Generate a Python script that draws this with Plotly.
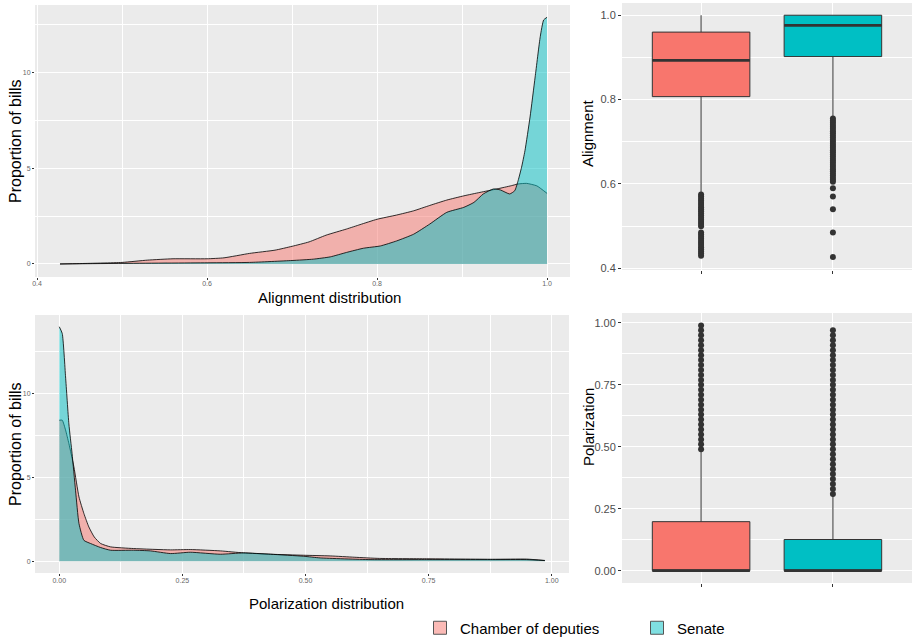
import plotly.graph_objects as go

# ---------------- data ----------------
groups = ["Chamber of deputies", "Senate"]

# Alignment density
align_x_ch = [0.427, 0.45, 0.50, 0.53, 0.56, 0.60, 0.62, 0.65, 0.68, 0.70, 0.72, 0.74, 0.764, 0.78, 0.80,
              0.823, 0.843, 0.862, 0.882, 0.902, 0.921, 0.941, 0.958, 0.966, 0.976, 0.988, 1.0]
align_y_ch = [0.0, 0.02, 0.08, 0.2, 0.27, 0.27, 0.32, 0.55, 0.72, 0.92, 1.15, 1.5, 1.82, 2.05, 2.33,
              2.55, 2.77, 3.05, 3.33, 3.55, 3.73, 3.91, 4.08, 4.17, 4.2, 4.07, 3.68]
align_x_se = [0.427, 0.50, 0.60, 0.65, 0.70, 0.725, 0.745, 0.764, 0.784, 0.804, 0.823, 0.843, 0.862, 0.882,
              0.902, 0.914, 0.925, 0.937, 0.945, 0.956, 0.962, 0.966, 0.970, 0.974, 0.980, 0.986, 0.992,
              0.996, 1.0]
align_y_se = [0.0, 0.03, 0.06, 0.08, 0.18, 0.25, 0.37, 0.6, 0.82, 0.94, 1.2, 1.55, 2.08, 2.69,
              2.95, 3.21, 3.65, 3.91, 3.86, 3.65, 3.82, 4.35, 5.04, 5.9, 7.66, 9.75, 11.85,
              12.72, 12.86]

# Polarization density
pol_x_ch = [0.0, 0.006, 0.0128, 0.0195, 0.0297, 0.040, 0.050, 0.060, 0.071, 0.084, 0.104, 0.151, 0.226,
            0.266, 0.327, 0.374, 0.429, 0.496, 0.55, 0.60, 0.65, 0.746, 0.88, 0.949, 0.986]
pol_y_ch = [8.42, 8.42, 7.83, 7.03, 5.63, 3.84, 2.85, 2.05, 1.45, 1.06, 0.86, 0.76, 0.68,
            0.7, 0.62, 0.5, 0.42, 0.36, 0.32, 0.24, 0.17, 0.15, 0.12, 0.13, 0.05]
pol_x_se = [0.0, 0.006, 0.0128, 0.0195, 0.026, 0.033, 0.040, 0.050, 0.0635, 0.084, 0.104, 0.151, 0.185,
            0.226, 0.266, 0.327, 0.374, 0.429, 0.496, 0.53, 0.631, 0.746, 0.88, 0.949, 0.986]
pol_y_se = [14.0, 13.6, 11.0, 8.2, 6.43, 4.24, 2.25, 1.25, 1.06, 0.82, 0.66, 0.66, 0.62,
            0.46, 0.54, 0.42, 0.5, 0.42, 0.3, 0.2, 0.1, 0.1, 0.1, 0.1, 0.04]

# Alignment boxplot stats [chamber, senate]
al_q1 = [0.807, 0.902]
al_med = [0.893, 0.976]
al_q3 = [0.960, 1.0]
al_lo = [0.578, 0.759]
al_hi = [1.0, 1.0]
al_out_ch = [0.575, 0.570, 0.565, 0.560, 0.555, 0.550, 0.545, 0.540, 0.535, 0.530, 0.525, 0.520,
             0.515, 0.510, 0.505, 0.500, 0.485, 0.480, 0.475, 0.470, 0.465, 0.460, 0.455, 0.450,
             0.445, 0.440, 0.435, 0.430]
al_out_se = [0.755, 0.750, 0.745, 0.740, 0.735, 0.730, 0.725, 0.720, 0.715, 0.710, 0.705, 0.700,
             0.695, 0.690, 0.685, 0.680, 0.675, 0.670, 0.665, 0.660, 0.655, 0.650, 0.645, 0.640,
             0.635, 0.630, 0.625, 0.620, 0.615, 0.610, 0.605, 0.590, 0.570, 0.540, 0.485, 0.427]

# Polarization boxplot stats [chamber, senate]
po_q1 = [0.0, 0.0]
po_med = [0.0, 0.0]
po_q3 = [0.198, 0.126]
po_lo = [0.0, 0.0]
po_hi = [0.488, 0.307]
po_out_ch = [0.49, 0.51, 0.53, 0.55, 0.57, 0.59, 0.61, 0.63, 0.65, 0.67, 0.69, 0.71, 0.73,
             0.75, 0.77, 0.79, 0.81, 0.83, 0.85, 0.87, 0.89, 0.91, 0.93, 0.95, 0.97, 0.99]
po_out_se = [0.31, 0.33, 0.35, 0.37, 0.39, 0.41, 0.43, 0.45, 0.47, 0.49, 0.51, 0.53, 0.55,
             0.57, 0.59, 0.61, 0.63, 0.65, 0.67, 0.69, 0.71, 0.73, 0.75, 0.77, 0.79, 0.81,
             0.83, 0.85, 0.87, 0.89, 0.91, 0.93, 0.95, 0.97]

# ---------------- styling ----------------
W, H = 914, 640
RED, TEAL = "#F8766D", "#00BFC4"
RED_A, TEAL_A = "rgba(248,118,109,0.5)", "rgba(0,191,196,0.5)"
DARK = "#333333"
FONT = "Liberation Sans"
BOXW = 0.74


def dom_x(a, b):
    return [a / W, b / W]


def dom_y(top, bottom):
    return [1 - bottom / H, 1 - top / H]


fig = go.Figure()

# densities
for xs, ys, col, ax in [(align_x_ch, align_y_ch, RED_A, "1"), (align_x_se, align_y_se, TEAL_A, "1"),
                        (pol_x_ch, pol_y_ch, RED_A, "3"), (pol_x_se, pol_y_se, TEAL_A, "3")]:
    fig.add_trace(go.Scatter(x=xs, y=ys, mode="lines", fill="tozeroy", fillcolor=col,
                             line=dict(color="black", width=0.8, shape="spline", smoothing=0.5),
                             showlegend=False, hoverinfo="skip",
                             xaxis="x" if ax == "1" else "x" + ax,
                             yaxis="y" if ax == "1" else "y" + ax))

# boxplots
def add_box(pos, q1, med, q3, lo, hi, outs, col, ax):
    fig.add_trace(go.Box(x=[pos], q1=[q1], median=[med], q3=[q3], lowerfence=[lo], upperfence=[hi],
                         fillcolor=col, line=dict(color=DARK, width=1), whiskerwidth=0, width=BOXW,
                         boxpoints=False, showlegend=False, hoverinfo="skip",
                         xaxis="x" + ax, yaxis="y" + ax))
    fig.add_trace(go.Scatter(x=[pos - BOXW / 2, pos + BOXW / 2], y=[med, med], mode="lines",
                             line=dict(color=DARK, width=2.6), showlegend=False, hoverinfo="skip",
                             xaxis="x" + ax, yaxis="y" + ax))
    fig.add_trace(go.Scatter(x=[pos] * len(outs), y=outs, mode="markers",
                             marker=dict(color=DARK, size=6), showlegend=False, hoverinfo="skip",
                             xaxis="x" + ax, yaxis="y" + ax))


add_box(1, al_q1[0], al_med[0], al_q3[0], al_lo[0], al_hi[0], al_out_ch, RED, "2")
add_box(2, al_q1[1], al_med[1], al_q3[1], al_lo[1], al_hi[1], al_out_se, TEAL, "2")
add_box(1, po_q1[0], po_med[0], po_q3[0], po_lo[0], po_hi[0], po_out_ch, RED, "4")
add_box(2, po_q1[1], po_med[1], po_q3[1], po_lo[1], po_hi[1], po_out_se, TEAL, "4")

# legend entries
for name, col in zip(groups, [RED_A, TEAL_A]):
    fig.add_trace(go.Scatter(x=[None], y=[None], mode="markers", name=name,
                             marker=dict(symbol="square", size=13, color=col,
                                         line=dict(color="#555555", width=1)),
                             xaxis="x", yaxis="y"))


def axis(dom, rng, tickvals, ticktext=None, minor_vals=None, anchor=None, tick_size=7,
         tick_color="#666666", show_labels=True, ticklen=3, standoff=None):
    d = dict(domain=dom, range=rng, tickvals=tickvals, showgrid=True, gridcolor="white",
             gridwidth=1.2, zeroline=False, showline=False, ticks="outside", ticklen=ticklen,
             tickcolor=DARK, tickwidth=1, showticklabels=show_labels, automargin=False,
             tickfont=dict(family=FONT, size=tick_size, color=tick_color), anchor=anchor,
             fixedrange=True)
    if standoff is not None:
        d["ticklabelstandoff"] = standoff
    if ticktext is not None:
        d["ticktext"] = ticktext
    if minor_vals:
        d["minor"] = dict(tickvals=minor_vals, showgrid=True, gridcolor="white", gridwidth=0.6,
                          ticks="")
    return d


fig.update_layout(
    width=W, height=H, margin=dict(l=0, r=0, t=0, b=0, autoexpand=False),
    paper_bgcolor="white", plot_bgcolor="#EBEBEB",
    font=dict(family=FONT, color="black"),
    xaxis=axis(dom_x(35, 570), [0.3976, 1.027], [0.4, 0.6, 0.8, 1.0], ["0.4", "0.6", "0.8", "1.0"],
               [0.5, 0.7, 0.9], anchor="y", ticklen=2, standoff=-2),
    yaxis=axis(dom_y(5, 277), [-0.68, 13.5], [0, 5, 10], ["0", "5", "10"], [2.5, 7.5, 12.5], anchor="x",
               ticklen=2),
    xaxis2=axis(dom_x(622, 912), [0.4, 2.6], [1, 2], None, None, anchor="y2", show_labels=False),
    yaxis2=axis(dom_y(3, 270), [0.396, 1.029], [0.4, 0.6, 0.8, 1.0], ["0.4", "0.6", "0.8", "1.0"],
                [0.5, 0.7, 0.9], anchor="x2", tick_size=11, tick_color="#4D4D4D"),
    xaxis3=axis(dom_x(35, 569), [-0.0493, 1.035], [0, 0.25, 0.5, 0.75, 1.0],
                ["0.00", "0.25", "0.50", "0.75", "1.00"], [0.125, 0.375, 0.625, 0.875], anchor="y3",
                ticklen=2, standoff=-1),
    yaxis3=axis(dom_y(315, 573), [-0.7, 14.7], [0, 5, 10], ["0", "5", "10"], [2.5, 7.5, 12.5], anchor="x3",
                ticklen=2),
    xaxis4=axis(dom_x(622, 912), [0.4, 2.6], [1, 2], None, None, anchor="y4", show_labels=False),
    yaxis4=axis(dom_y(313, 583), [-0.0495, 1.04], [0, 0.25, 0.5, 0.75, 1.0],
                ["0.00", "0.25", "0.50", "0.75", "1.00"], [0.125, 0.375, 0.625, 0.875], anchor="x4",
                tick_size=11, tick_color="#4D4D4D"),
    legend=dict(orientation="h", x=420 / W, y=1 - 628 / H, xanchor="left", yanchor="middle",
                font=dict(family=FONT, size=15, color="black"), bgcolor="rgba(0,0,0,0)",
                entrywidth=172, entrywidthmode="pixels", itemclick=False, itemdoubleclick=False),
    showlegend=True,
)

ann = [
    dict(text="Proportion of bills", x=15 / W, y=1 - 141 / H, textangle=-90, size=16),
    dict(text="Alignment distribution", x=329 / W, y=1 - 297 / H, textangle=0, size=15),
    dict(text="Proportion of bills", x=15 / W, y=1 - 444 / H, textangle=-90, size=16),
    dict(text="Polarization distribution", x=326 / W, y=1 - 603 / H, textangle=0, size=15),
    dict(text="Alignment", x=588 / W, y=1 - 133 / H, textangle=-90, size=15),
    dict(text="Polarization", x=588 / W, y=1 - 427 / H, textangle=-90, size=15),
]
for a in ann:
    fig.add_annotation(text=a["text"], x=a["x"], y=a["y"], xref="paper", yref="paper",
                       showarrow=False, textangle=a["textangle"], xanchor="center", yanchor="middle",
                       font=dict(family=FONT, size=a["size"], color="black"))

fig.write_html("out.html")
